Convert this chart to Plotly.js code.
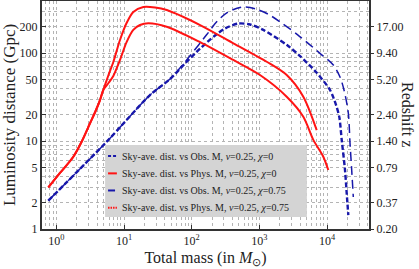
<!DOCTYPE html>
<html>
<head>
<meta charset="utf-8">
<script src="https://cdn.plot.ly/plotly-3.0.1.min.js"></script>
<style>html,body{margin:0;padding:0;background:#fff;}#chart{width:419px;height:269px;}</style>
</head>
<body>
<div id="chart"></div>
<script>
// Series: total mass (solar masses) vs sky-averaged luminosity distance (Gpc)
const massObsChi0 = [0.759, 5.54, 24.2, 47.8, 79.6, 132.7, 221, 311, 484, 728, 1144, 2563, 3990, 6878, 11075, 13584, 15198, 16498, 18455, 19553, 20650];
const distObsChi0 = [2.10, 9.82, 33.3, 50.6, 76.0, 112, 158, 190, 216, 211, 183, 123, 92.4, 60.8, 38.0, 25.7, 18.7, 10.3, 4.68, 2.55, 1.44];

const massPhysChi0 = [0.759, 1.13, 1.78, 2.39, 3.14, 3.85, 4.41, 4.93, 5.89, 6.94, 8.71, 10.9, 13.7, 17.2, 22.8, 42.7, 133, 412, 1022, 2537, 4464, 6274, 8817, 10452];
const distPhysChi0 = [2.98, 4.33, 6.63, 10.0, 15.9, 22.5, 29.2, 38.0, 45.6, 54.8, 83.3, 133, 183, 208, 218, 199, 133, 83.3, 56.2, 31.9, 18.9, 10.3, 6.63, 4.68];

const massObsChi075 = [0.759, 5.54, 24.2, 47.8, 67.1, 94.4, 167, 234, 344, 579, 892, 1342, 2237, 3727, 7880, 12393, 15567, 17838, 20650, 21878, 23180, 24477];
const distObsChi075 = [2.10, 9.82, 33.3, 50.6, 67.5, 93.0, 162, 226, 292, 333, 316, 277, 214, 160, 99.2, 73.1, 53.4, 38.0, 20.8, 9.49, 4.68, 2.31];

const massPhysChi075 = [0.759, 1.13, 1.78, 2.39, 3.14, 3.85, 4.41, 4.93, 5.89, 6.94, 8.71, 10.9, 13.7, 19.3, 28.7, 42.7, 133, 412, 1284, 2537, 4464, 7042];
const distPhysChi075 = [2.98, 4.33, 6.63, 10.0, 15.9, 22.5, 29.2, 38.0, 56.2, 79.0, 140.5, 219, 292, 333, 329, 308, 208, 129, 79.6, 56.2, 31.9, 13.3];

const seriesNames = [
  "Sky-ave. dist. vs Obs. M, <i>ν</i>=0.25, <i>χ</i>=0",
  "Sky-ave. dist. vs Phys. M, <i>ν</i>=0.25, <i>χ</i>=0",
  "Sky-ave. dist. vs Obs. M, <i>ν</i>=0.25, <i>χ</i>=0.75",
  "Sky-ave. dist. vs Phys. M, <i>ν</i>=0.25, <i>χ</i>=0.75"
];

// Axis ticks
const distTickVals = [1, 2, 5, 10, 20, 50, 100, 200];
const distTickText = ["1", "2", "5", "10", "20", "50", "100", "200"];
const redshiftTickText = ["0.20", "0.37", "0.79", "1.40", "2.40", "5.20", "9.40", "17.00"];
const massDecades = [0, 1, 2, 3, 4];

// ---- build ----
const BLUE = '#1818aa', RED = '#ff1414', FONT = 'Liberation Serif, Times New Roman, serif';
const xMajor = massDecades.map(e => Math.pow(10, e));
const xMajorText = massDecades.map(e => '10<sup>' + e + '</sup>');
const xMinor = [], yMinor = [];
for (let e = -1; e <= 4; e++) {
  for (let m = 2; m <= 9; m++) {
    const v = m * Math.pow(10, e);
    if (v >= 0.6 && v <= 42000) xMinor.push(v);
    if (v > 1 && v < 390 && distTickVals.indexOf(v) < 0) yMinor.push(v);
  }
}

const styles = [
  {color: BLUE, width: 2.4, dash: '5px,2.5px'},
  {color: RED, width: 2, dash: 'solid'},
  {color: BLUE, width: 1.5, dash: '9px,5px'},
  {color: RED, width: 2, dash: 'solid'}
];
const legendDash = ['3px,2px', 'solid', '7px,2px', '1.5px,1px'];
const xs = [massObsChi0, massPhysChi0, massObsChi075, massPhysChi075];
const ys = [distObsChi0, distPhysChi0, distObsChi075, distPhysChi075];

const traces = xs.map((x, i) => ({
  x: x, y: ys[i], type: 'scatter', mode: 'lines', name: seriesNames[i],
  yaxis: i === 3 ? 'y2' : 'y',
  line: Object.assign({shape: 'spline', smoothing: 0.8}, styles[i]),
  showlegend: false, hoverinfo: 'skip'
}));

// legend box drawn inside the axes
const shapes = [{type: 'rect', xref: 'paper', yref: 'paper', x0: 0.193, x1: 0.810, y0: 0.053, y1: 0.368,
  fillcolor: '#d4d4d4', line: {width: 0}, layer: 'above'}];
const annotations = [];
const rowY = [0.320, 0.244, 0.169, 0.093];
seriesNames.forEach((name, i) => {
  shapes.push({type: 'line', xref: 'paper', yref: 'paper', x0: 0.202, x1: 0.229, y0: rowY[i], y1: rowY[i],
    line: {color: styles[i].color, width: 2, dash: legendDash[i]}, layer: 'above'});
  annotations.push({xref: 'paper', yref: 'paper', x: 0.2385, y: rowY[i], xanchor: 'left', yanchor: 'middle',
    text: name, showarrow: false, font: {family: FONT, size: 10, color: '#222'}});
});
// right-hand axis title, reading top to bottom
annotations.push({xref: 'paper', yref: 'paper', x: 1.119, y: 0.5, xanchor: 'center', yanchor: 'middle',
  textangle: 90, text: 'Redshift z', showarrow: false, font: {family: FONT, size: 16, color: '#222'}});

const grid = {showgrid: true, gridcolor: '#b4b4b4', griddash: 'dot', gridwidth: 1};
const layout = {
  width: 419, height: 269,
  margin: {l: 42, r: 50, t: 1, b: 40},
  paper_bgcolor: '#fff', plot_bgcolor: '#fff',
  font: {family: FONT, size: 12, color: '#222'},
  showlegend: false,
  xaxis: Object.assign({
    type: 'log', range: [-0.2129, 4.6208],
    tickmode: 'array', tickvals: xMajor, ticktext: xMajorText,
    ticks: 'inside', ticklen: 4, tickcolor: '#333',
    minor: Object.assign({tickmode: 'array', tickvals: xMinor, ticks: ''}, grid),
    showline: true, linecolor: '#333', linewidth: 2, mirror: true, zeroline: false,
    tickfont: {family: FONT, size: 12, color: '#222'},
    title: {text: 'Total mass (in <i>M</i><sub>⊙</sub>)', font: {family: FONT, size: 16, color: '#222'}, standoff: 4}
  }, grid),
  yaxis: Object.assign({
    type: 'log', range: [0, 2.591],
    tickmode: 'array', tickvals: distTickVals, ticktext: distTickText,
    ticks: 'inside', ticklen: 4, tickcolor: '#333',
    minor: Object.assign({tickmode: 'array', tickvals: yMinor, ticks: ''}, grid),
    showline: true, linecolor: '#333', linewidth: 2, mirror: true, zeroline: false,
    tickfont: {family: FONT, size: 12, color: '#222'},
    title: {text: 'Luminosity distance (Gpc)', font: {family: FONT, size: 17, color: '#222'}, standoff: 4}
  }, grid),
  yaxis2: {
    type: 'log', range: [0, 2.591], overlaying: 'y', side: 'right',
    tickmode: 'array', tickvals: distTickVals, ticktext: redshiftTickText,
    ticks: 'outside', ticklen: 3, tickcolor: '#333', showgrid: false, zeroline: false,
    showline: true, linecolor: '#333', linewidth: 2,
    tickfont: {family: FONT, size: 12, color: '#222'}
  },
  shapes: shapes,
  annotations: annotations
};

Plotly.newPlot('chart', traces, layout, {staticPlot: true, displayModeBar: false});
</script>
</body>
</html>
